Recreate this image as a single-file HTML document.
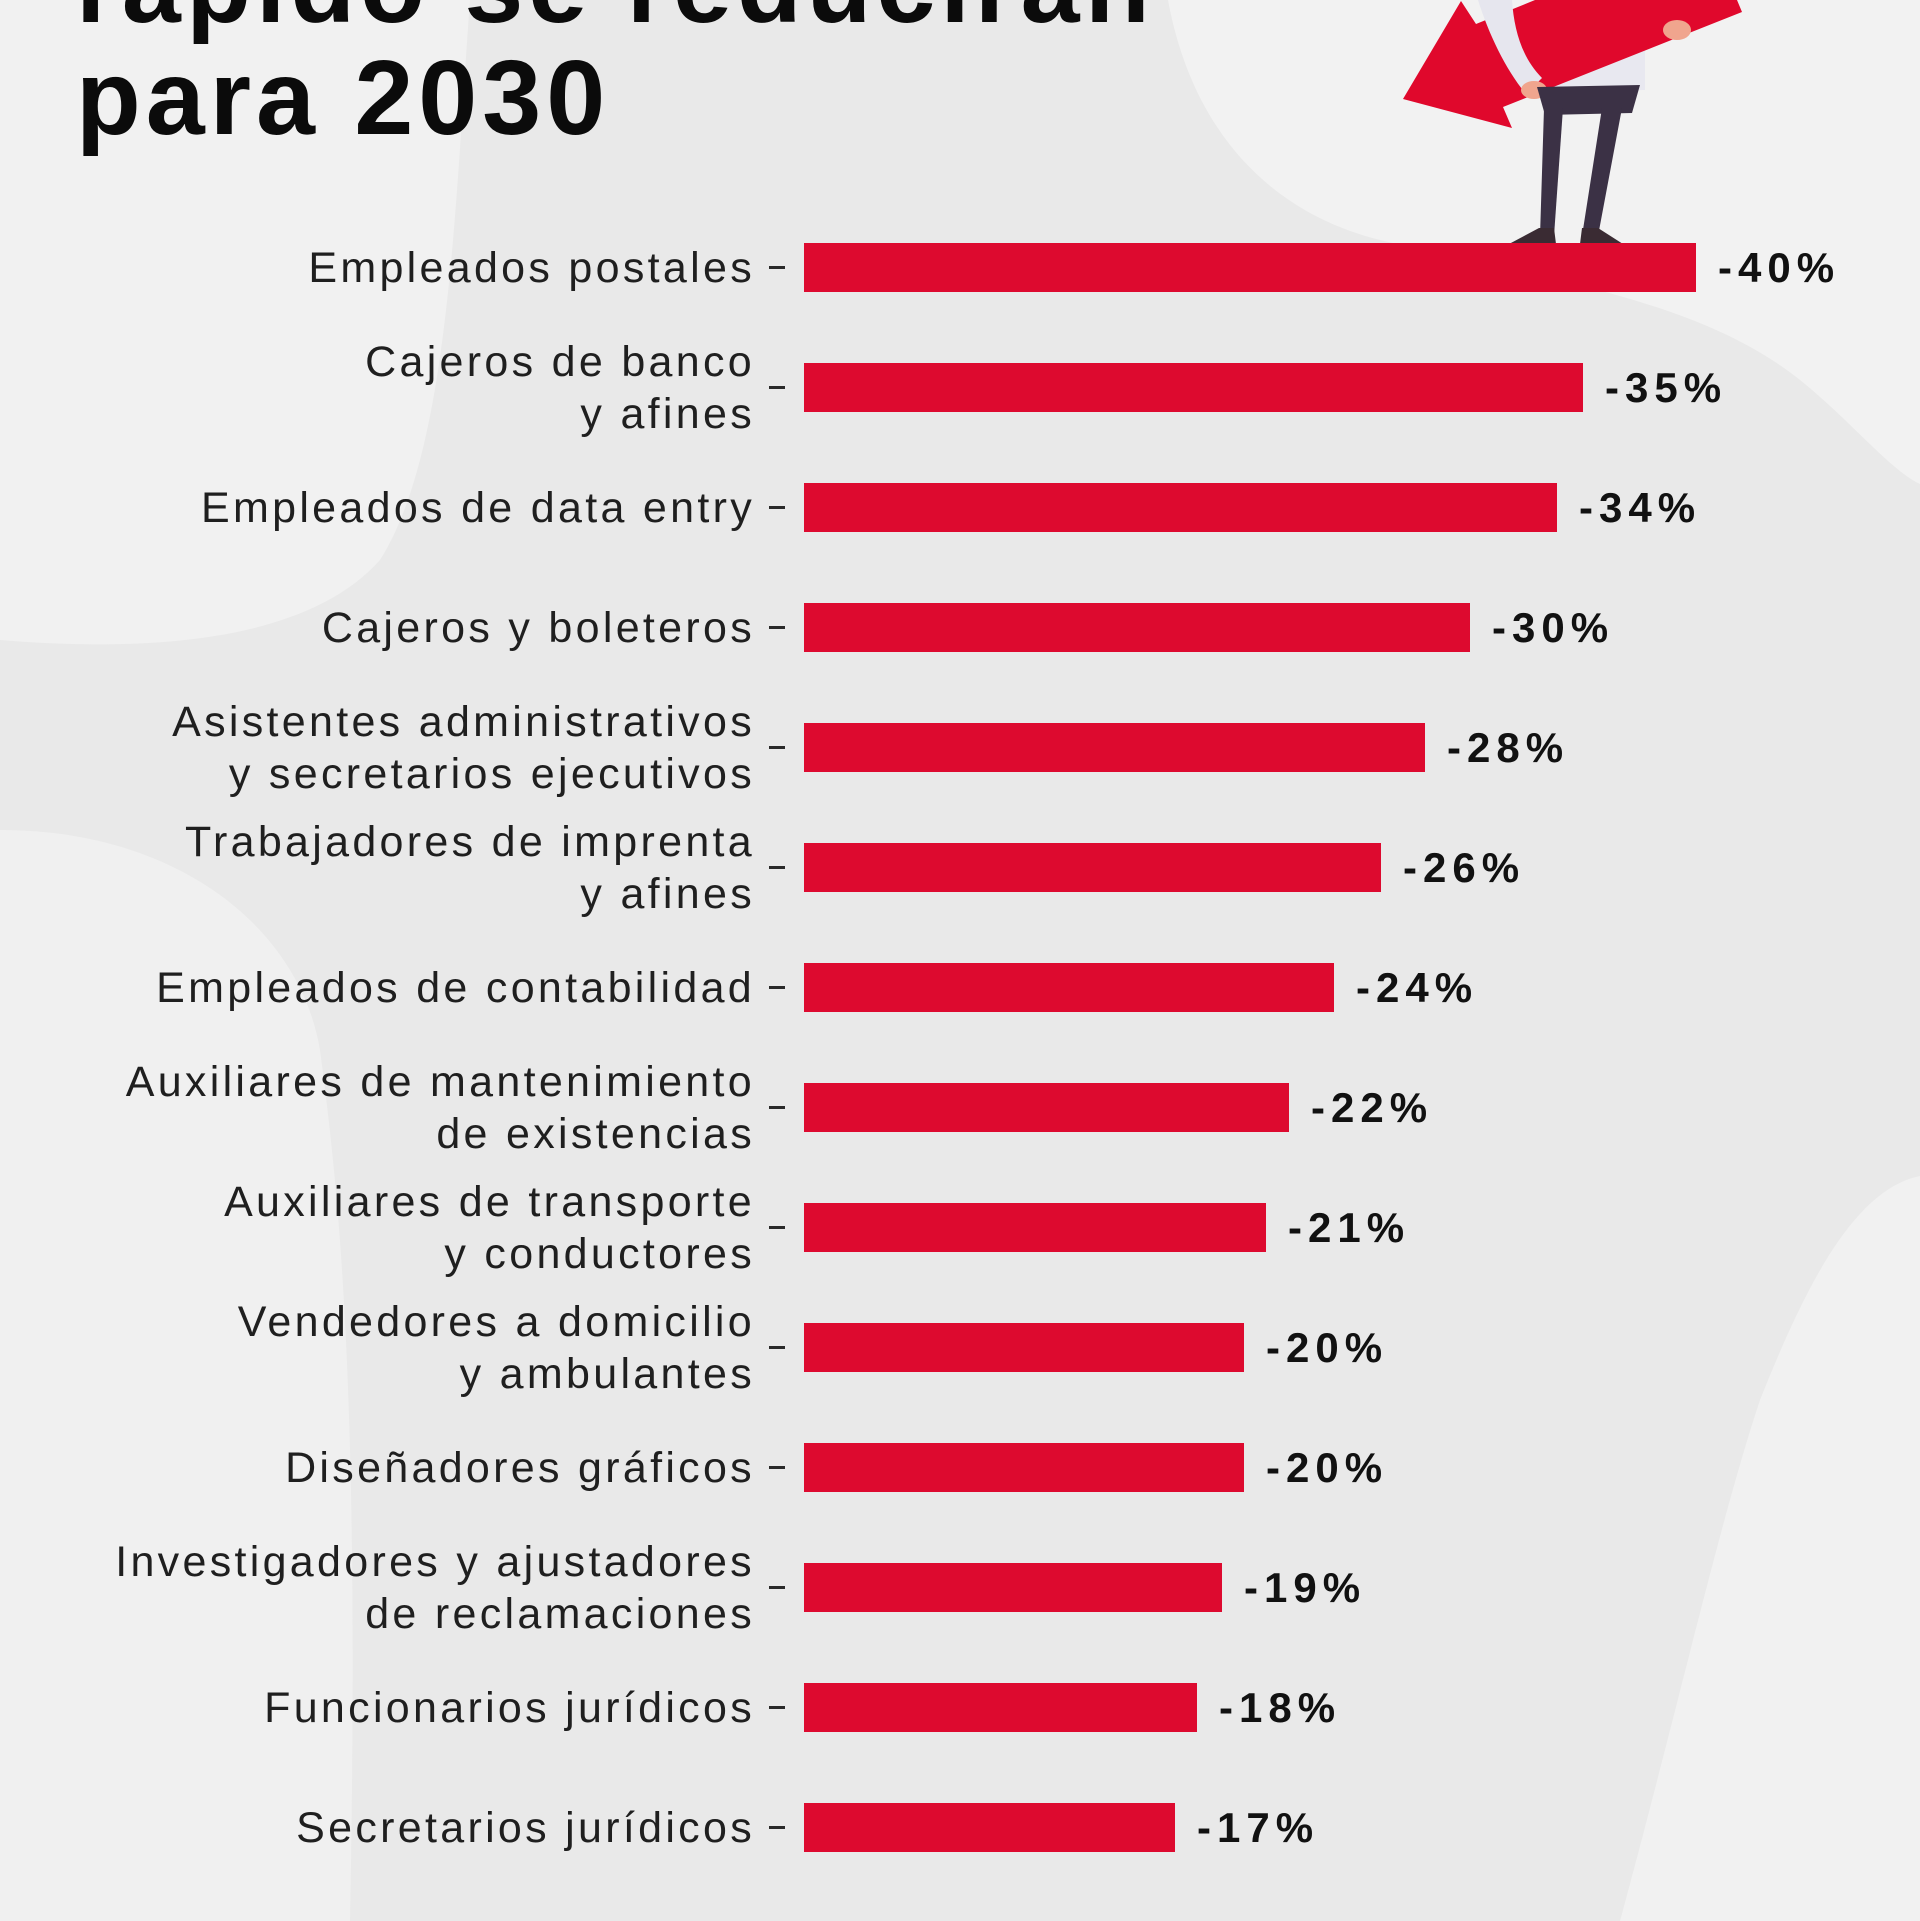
<!DOCTYPE html>
<html>
<head>
<meta charset="utf-8">
<style>
html,body{margin:0;padding:0;}
body{width:1920px;height:1921px;position:relative;overflow:hidden;background:#e9e9e9;font-family:"Liberation Sans",sans-serif;}
svg.bg{position:absolute;left:0;top:0;}
.title{position:absolute;left:76px;top:-70px;font-weight:bold;font-size:106px;line-height:112px;letter-spacing:5px;color:#0b0b0b;white-space:nowrap;}
.lab{position:absolute;right:1165px;font-size:43px;line-height:52px;letter-spacing:3.3px;color:#1f1f1f;text-align:right;white-space:nowrap;}
.bar{position:absolute;left:804px;height:49px;background:#dd0a2f;}
.dash{position:absolute;left:769px;width:16px;height:3px;background:#2a2a2a;}
.val{position:absolute;font-weight:bold;font-size:42px;line-height:52px;letter-spacing:6px;color:#111;white-space:nowrap;}
</style>
</head>
<body>
<svg class="bg" width="1920" height="1921" viewBox="0 0 1920 1921">
  <rect width="1920" height="1921" fill="#e9e9e9"/>
  <path d="M0,0 L470,0 C455,200 450,450 380,560 C300,650 120,650 0,640 Z" fill="#f1f1f1"/>
  <path d="M0,830 C180,830 300,930 320,1050 C340,1200 360,1400 350,1921 L0,1921 Z" fill="#f0f0f0"/>
  <path d="M1168,0 C1190,120 1260,210 1380,240 C1550,280 1700,300 1800,380 C1850,420 1890,470 1920,484 L1920,0 Z" fill="#f2f2f2"/>
  <path d="M1920,1176 C1850,1190 1800,1300 1760,1400 C1720,1520 1680,1700 1620,1921 L1920,1921 Z" fill="#f1f1f1"/>
  <!-- figure -->
  <polygon points="1540,60 1645,40 1645,90 1537,92" fill="#e8e8f0"/>
  <polygon points="1403,99 1461,1 1476,24 1535,0 1737,0 1742,12 1503,107 1512,128" fill="#e0082c"/>
  <path d="M1478,0 L1512,0 C1514,30 1522,58 1542,78 L1526,94 C1506,70 1489,35 1478,0 Z" fill="#e6e6ee"/>
  <ellipse cx="1534" cy="90" rx="13" ry="9" fill="#f0a58e"/>
  <ellipse cx="1677" cy="30" rx="14" ry="10" fill="#f0a58e"/>
  <polygon points="1537,87 1640,85 1632,113 1545,115" fill="#3b3145"/>
  <polygon points="1544,108 1563,108 1554,236 1540,236" fill="#3b3145"/>
  <polygon points="1602,108 1622,108 1598,236 1582,236" fill="#3b3145"/>
  <polygon points="1539,228 1554,228 1556,244 1509,244" fill="#3a2b33"/>
  <polygon points="1582,228 1598,228 1623,244 1580,244" fill="#3a2b33"/>
</svg>

<div class="title">rápido se reducirán<br>para 2030</div>

<!-- 1 -->
<div class="lab" style="top:241.5px">Empleados postales</div>
<div class="dash" style="top:266px"></div>
<div class="bar" style="top:243px;width:892px"></div>
<div class="val" style="top:242px;left:1718px">-40%</div>
<!-- 2 -->
<div class="lab" style="top:335.5px">Cajeros de banco<br>y afines</div>
<div class="dash" style="top:386px"></div>
<div class="bar" style="top:363px;width:779px"></div>
<div class="val" style="top:362px;left:1605px">-35%</div>
<!-- 3 -->
<div class="lab" style="top:481.5px">Empleados de data entry</div>
<div class="dash" style="top:506px"></div>
<div class="bar" style="top:483px;width:753px"></div>
<div class="val" style="top:482px;left:1579px">-34%</div>
<!-- 4 -->
<div class="lab" style="top:601.5px">Cajeros y boleteros</div>
<div class="dash" style="top:626px"></div>
<div class="bar" style="top:603px;width:666px"></div>
<div class="val" style="top:602px;left:1492px">-30%</div>
<!-- 5 -->
<div class="lab" style="top:695.5px">Asistentes administrativos<br>y secretarios ejecutivos</div>
<div class="dash" style="top:746px"></div>
<div class="bar" style="top:723px;width:621px"></div>
<div class="val" style="top:722px;left:1447px">-28%</div>
<!-- 6 -->
<div class="lab" style="top:815.5px">Trabajadores de imprenta<br>y afines</div>
<div class="dash" style="top:866px"></div>
<div class="bar" style="top:843px;width:577px"></div>
<div class="val" style="top:842px;left:1403px">-26%</div>
<!-- 7 -->
<div class="lab" style="top:961.5px">Empleados de contabilidad</div>
<div class="dash" style="top:986px"></div>
<div class="bar" style="top:963px;width:530px"></div>
<div class="val" style="top:962px;left:1356px">-24%</div>
<!-- 8 -->
<div class="lab" style="top:1055.5px">Auxiliares de mantenimiento<br>de existencias</div>
<div class="dash" style="top:1106px"></div>
<div class="bar" style="top:1083px;width:485px"></div>
<div class="val" style="top:1082px;left:1311px">-22%</div>
<!-- 9 -->
<div class="lab" style="top:1175.5px">Auxiliares de transporte<br>y conductores</div>
<div class="dash" style="top:1226px"></div>
<div class="bar" style="top:1203px;width:462px"></div>
<div class="val" style="top:1202px;left:1288px">-21%</div>
<!-- 10 -->
<div class="lab" style="top:1295.5px">Vendedores a domicilio<br>y ambulantes</div>
<div class="dash" style="top:1346px"></div>
<div class="bar" style="top:1323px;width:440px"></div>
<div class="val" style="top:1322px;left:1266px">-20%</div>
<!-- 11 -->
<div class="lab" style="top:1441.5px">Diseñadores gráficos</div>
<div class="dash" style="top:1466px"></div>
<div class="bar" style="top:1443px;width:440px"></div>
<div class="val" style="top:1442px;left:1266px">-20%</div>
<!-- 12 -->
<div class="lab" style="top:1535.5px">Investigadores y ajustadores<br>de reclamaciones</div>
<div class="dash" style="top:1586px"></div>
<div class="bar" style="top:1563px;width:418px"></div>
<div class="val" style="top:1562px;left:1244px">-19%</div>
<!-- 13 -->
<div class="lab" style="top:1681.5px">Funcionarios jurídicos</div>
<div class="dash" style="top:1706px"></div>
<div class="bar" style="top:1683px;width:393px"></div>
<div class="val" style="top:1682px;left:1219px">-18%</div>
<!-- 14 -->
<div class="lab" style="top:1801.5px">Secretarios jurídicos</div>
<div class="dash" style="top:1826px"></div>
<div class="bar" style="top:1803px;width:371px"></div>
<div class="val" style="top:1802px;left:1197px">-17%</div>
</body>
</html>
